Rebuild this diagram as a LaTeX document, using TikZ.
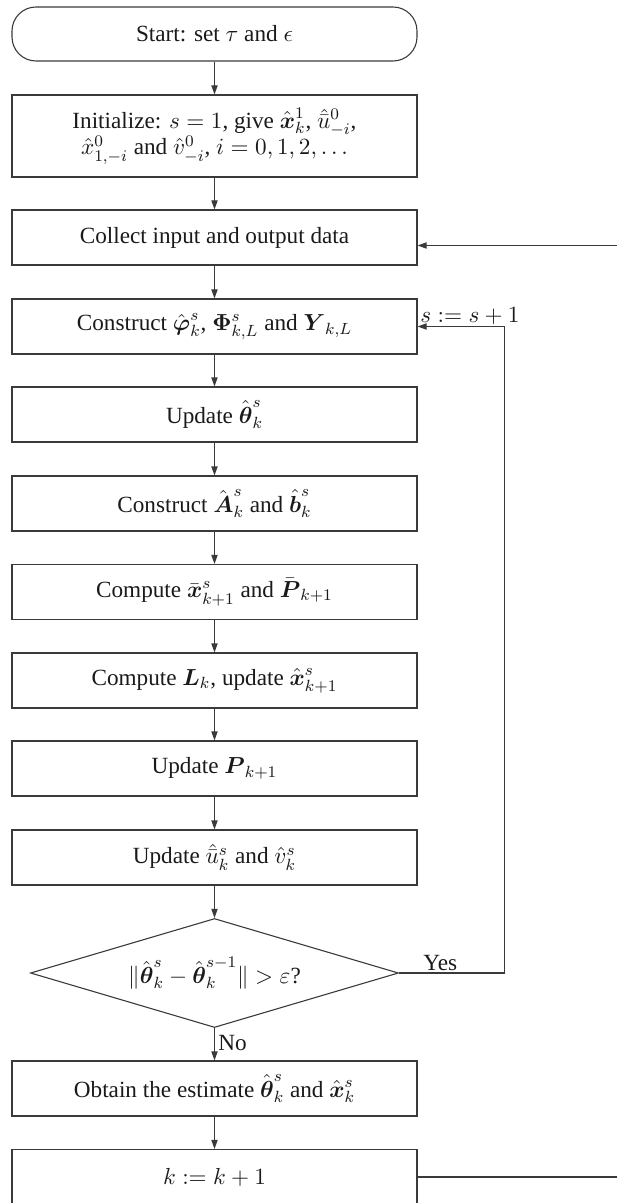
\RequirePackage{fix-cm}
\documentclass[tikz,border=0pt]{standalone}
\usepackage{amsmath}
\usepackage{fontspec}
\setmainfont{Liberation Serif}
\usetikzlibrary{arrows.meta}
\usetikzlibrary{shapes.geometric}
\definecolor{fcline}{HTML}{3A3A3A}
\definecolor{fcink}{HTML}{1A1A1A}
\newcommand{\bv}[1]{\boldsymbol{#1}}
\tikzset{
  fcbox/.style={
    draw=fcline, line width=0.55pt, minimum width=202.5pt,
    minimum height=27.5pt, inner sep=2pt, text=fcink, align=center},
  fcstart/.style={fcbox, rounded corners=12pt, minimum height=27pt},
  fctest/.style={
    draw=fcline, line width=0.55pt, diamond, aspect=3.4, inner sep=0pt,
    minimum width=184pt, minimum height=54.5pt, text=fcink},
  fcarrow/.style={-{Triangle[length=4.5pt, width=3.1pt]}, draw=fcline,
    line width=0.55pt},
  fclabel/.style={text=fcink, inner sep=1pt},
  every node/.style={font=\fontsize{11.6pt}{13pt}\selectfont},
}

\begin{document}
\begin{tikzpicture}[x=0.5pt, y=-0.5pt]
\useasboundingbox (0, 0) rectangle (616, 1203);

% Main chain of steps.
\node[fcstart] (start) at (214.5, 34) {Start: set $\tau$ and $\epsilon$};
\node[fcbox, minimum height=41pt] (init) at (214.5, 136)
  {Initialize: $s=1$, give $\hat{\bv{x}}_k^1$, $\hat{\bar{u}}^0_{-i}$,\\[-1pt]
   $\hat{x}^0_{1,-i}$ and $\hat{v}^0_{-i}$, $i=0,1,2,\ldots$};
\node[fcbox] (collect) at (214.5, 237.5) {Collect input and output data};
\node[fcbox] (constr) at (214.5, 326.5)
  {Construct $\hat{\bv{\varphi}}_k^s$, $\bv{\Phi}_{k,L}^s$ and
   $\bv{Y}_{k,L}$};
\node[fcbox] (updtheta) at (214.5, 414.5)
  {Update $\hat{\bv{\theta}}_k^s$};
\node[fcbox] (constrab) at (214.5, 503.5)
  {Construct $\hat{\bv{A}}_k^s$ and $\hat{\bv{b}}_k^s$};
\node[fcbox] (compbar) at (214.5, 592)
  {Compute $\bar{\bv{x}}_{k+1}^s$ and $\bar{\bv{P}}_{k+1}$};
\node[fcbox] (compgain) at (214.5, 680.5)
  {Compute $\bv{L}_k$, update $\hat{\bv{x}}_{k+1}^s$};
\node[fcbox] (updp) at (214.5, 768.5) {Update $\bv{P}_{k+1}$};
\node[fcbox] (updnoise) at (214.5, 857.5)
  {Update $\hat{\bar{u}}_k^s$ and $\hat{v}_k^s$};
\node[fctest] (test) at (214.5, 973)
  {$\|\hat{\bv{\theta}}_k^s-\hat{\bv{\theta}}_k^{s-1}\|>\varepsilon$?};
\node[fcbox] (obtain) at (214.5, 1088.5)
  {Obtain the estimate $\hat{\bv{\theta}}_k^s$ and $\hat{\bv{x}}_k^s$};
\node[fcbox] (incr) at (214.5, 1177) {$k:=k+1$};

\foreach \a/\b in {start/init, init/collect, collect/constr,
    constr/updtheta, updtheta/constrab, constrab/compbar,
    compbar/compgain, compgain/updp, updp/updnoise, updnoise/test,
    test/obtain, obtain/incr} {
  \draw[fcarrow] (\a) -- (\b);
}

% Inner loop on s, outer loop on k.
\draw[fcarrow] (test.east) -- ++(105, 0) |- (constr.east);
\node[fclabel, anchor=south west] (yes) at (421, 973) {Yes};
\node[fclabel, anchor=south west] (snext) at (418, 327) {$s:=s+1$};
\node[fclabel, anchor=west] (no) at (216, 1043) {No};
\draw[fcarrow] (incr.east) -- ++(240, 0) |- ([yshift=-4pt]collect.east);

\end{tikzpicture}
\end{document}
